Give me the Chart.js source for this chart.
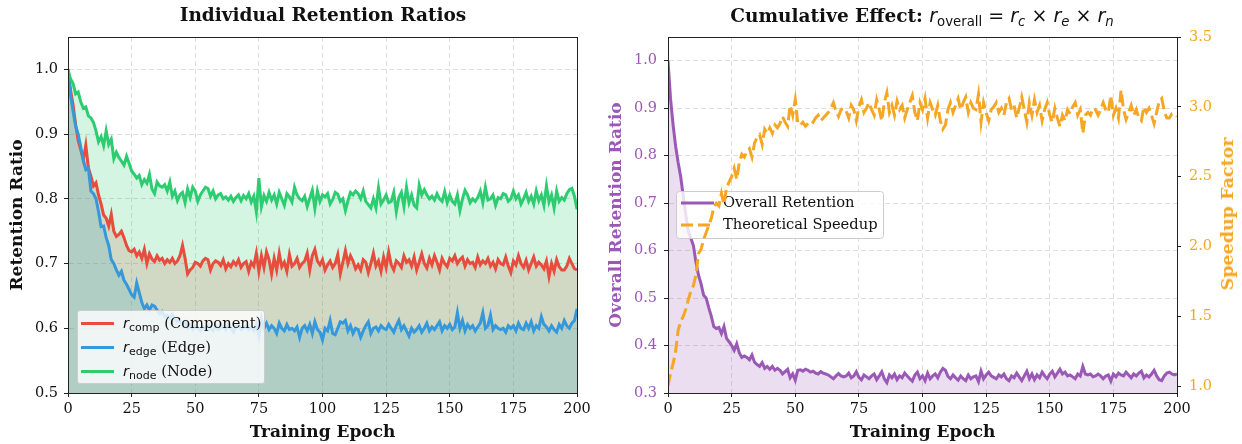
<!DOCTYPE html>
<html>
<head>
<meta charset="utf-8">
<script src="https://cdn.jsdelivr.net/npm/chart.js@4.4.1/dist/chart.umd.min.js"></script>
<style>
  body { margin: 0; background: #fff; }
  #wrap { position: relative; width: 1242px; height: 444px; overflow: hidden; font-family: "DejaVu Serif", serif; color: #111; }
  canvas { position: absolute; top: 0; }
  #c1 { left: 0; }
  #c2 { left: 600px; }
  .title { position: absolute; top: 4px; font-weight: bold; font-size: 18.5px; white-space: nowrap; transform: translateX(-50%); line-height: 22px; }
  .m { font-family: "DejaVu Sans", sans-serif; font-weight: normal; font-size: 19px; }
  .m sub { font-size: 0.7em; vertical-align: -0.3em; line-height: 0; }
  #ytitle2 { position: absolute; left: 1227px; top: 214px; transform: translate(-50%, -50%) rotate(-90deg); color: #f5a623; font-weight: bold; font-size: 17.5px; white-space: nowrap; }
  #legend1 { position: absolute; left: 77px; top: 310px; width: 188px; height: 74px; background: rgba(255,255,255,0.8); border: 1px solid #cccccc; border-radius: 3px; box-sizing: border-box; }
  .row { position: absolute; left: 0; height: 20px; }
  .swatch { position: absolute; left: 3px; top: 9px; width: 33px; height: 3px; }
  .lab { position: absolute; left: 45px; top: 0; font-size: 14.7px; white-space: nowrap; line-height: 20px; }
  .lab .r { font-family: "DejaVu Sans", sans-serif; font-style: italic; }
  .lab sub { font-family: "DejaVu Sans", sans-serif; font-size: 11px; vertical-align: -3px; line-height: 0; }
</style>
</head>
<body>
<div id="wrap">
  <canvas id="c1" width="600" height="444"></canvas>
  <canvas id="c2" width="642" height="444"></canvas>
  <div class="title" style="left:323px">Individual Retention Ratios</div>
  <div class="title" style="left:922px">Cumulative Effect: <span class="m"><i>r</i><sub>overall</sub> = <i>r</i><sub><i>c</i></sub> × <i>r</i><sub><i>e</i></sub> × <i>r</i><sub><i>n</i></sub></span></div>
  <div id="ytitle2">Speedup Factor</div>
  <div id="legend1">
    <div class="row" style="top:2px"><div class="swatch" style="background:#e74c3c"></div><div class="lab"><span class="r">r</span><sub>comp</sub> (Component)</div></div>
    <div class="row" style="top:26px"><div class="swatch" style="background:#3498db"></div><div class="lab"><span class="r">r</span><sub>edge</sub> (Edge)</div></div>
    <div class="row" style="top:50px"><div class="swatch" style="background:#2ecc71"></div><div class="lab"><span class="r">r</span><sub>node</sub> (Node)</div></div>
  </div>
</div>
<script>
// ===== data =====
const epochs = Array.from({ length: 201 }, (_, i) => i);

const rNode = [
  1.000, 0.985, 0.978, 0.962, 0.965, 0.950, 0.940, 0.942, 0.928, 0.925,
  0.918, 0.905, 0.888, 0.896, 0.882, 0.905, 0.884, 0.892, 0.862, 0.872,
  0.864, 0.858, 0.852, 0.866, 0.855, 0.843, 0.838, 0.832, 0.836, 0.822,
  0.830, 0.824, 0.838, 0.815, 0.808, 0.826, 0.820, 0.818, 0.822, 0.812,
  0.826, 0.804, 0.812, 0.797, 0.806, 0.810, 0.794, 0.815, 0.802, 0.818,
  0.812, 0.796, 0.806, 0.812, 0.818, 0.816, 0.804, 0.812, 0.800, 0.806,
  0.808, 0.800, 0.803, 0.798, 0.804, 0.796, 0.802, 0.806, 0.797, 0.805,
  0.800, 0.808, 0.795, 0.804, 0.780, 0.832, 0.788, 0.805, 0.796, 0.810,
  0.798, 0.806, 0.792, 0.810, 0.800, 0.790, 0.808, 0.803, 0.795, 0.818,
  0.806, 0.800, 0.797, 0.804, 0.788, 0.801, 0.813, 0.785, 0.812, 0.796,
  0.806, 0.803, 0.808, 0.792, 0.799, 0.810, 0.807, 0.796, 0.800, 0.782,
  0.797, 0.810, 0.806, 0.812, 0.808, 0.800, 0.812, 0.796, 0.791, 0.786,
  0.800, 0.786, 0.817, 0.792, 0.798, 0.806, 0.794, 0.796, 0.810, 0.780,
  0.802, 0.810, 0.788, 0.818, 0.794, 0.806, 0.790, 0.786, 0.821, 0.806,
  0.814, 0.806, 0.800, 0.804, 0.798, 0.808, 0.800, 0.796, 0.811, 0.794,
  0.806, 0.796, 0.792, 0.806, 0.782, 0.800, 0.813, 0.806, 0.794, 0.800,
  0.796, 0.802, 0.812, 0.794, 0.818, 0.798, 0.800, 0.806, 0.790, 0.802,
  0.800, 0.808, 0.806, 0.796, 0.800, 0.812, 0.800, 0.806, 0.792, 0.800,
  0.810, 0.796, 0.804, 0.792, 0.812, 0.797, 0.806, 0.790, 0.820, 0.795,
  0.806, 0.786, 0.812, 0.796, 0.802, 0.798, 0.808, 0.814, 0.816, 0.804,
  0.784
];

const rComp = [
  1.000, 0.968, 0.945, 0.915, 0.890, 0.876, 0.860, 0.883, 0.848, 0.835,
  0.820, 0.825, 0.806, 0.792, 0.775, 0.770, 0.758, 0.776, 0.750, 0.742,
  0.745, 0.750, 0.740, 0.728, 0.720, 0.718, 0.722, 0.712, 0.718, 0.708,
  0.722, 0.700, 0.715, 0.707, 0.703, 0.712, 0.705, 0.708, 0.700, 0.706,
  0.702, 0.708, 0.700, 0.704, 0.712, 0.728, 0.708, 0.684, 0.690, 0.694,
  0.702, 0.700, 0.696, 0.704, 0.708, 0.706, 0.690, 0.700, 0.704, 0.702,
  0.697, 0.706, 0.692, 0.700, 0.695, 0.703, 0.698, 0.706, 0.694, 0.700,
  0.703, 0.688, 0.702, 0.696, 0.716, 0.688, 0.712, 0.694, 0.718, 0.706,
  0.684, 0.708, 0.690, 0.716, 0.695, 0.702, 0.688, 0.714, 0.696, 0.700,
  0.708, 0.694, 0.700, 0.704, 0.716, 0.690, 0.712, 0.722, 0.704, 0.698,
  0.706, 0.690, 0.698, 0.704, 0.694, 0.700, 0.714, 0.684, 0.702, 0.720,
  0.700, 0.712, 0.704, 0.692, 0.698, 0.690, 0.706, 0.702, 0.686, 0.700,
  0.716, 0.696, 0.704, 0.688, 0.710, 0.694, 0.718, 0.698, 0.690, 0.704,
  0.700, 0.694, 0.712, 0.702, 0.706, 0.696, 0.710, 0.690, 0.702, 0.715,
  0.700, 0.693, 0.708, 0.698, 0.712, 0.702, 0.690, 0.708, 0.700, 0.695,
  0.708, 0.704, 0.712, 0.700, 0.706, 0.710, 0.696, 0.706, 0.700, 0.702,
  0.694, 0.710, 0.698, 0.704, 0.700, 0.708, 0.696, 0.702, 0.692, 0.706,
  0.700, 0.698, 0.710, 0.696, 0.686, 0.704, 0.698, 0.712, 0.700, 0.694,
  0.705, 0.690, 0.700, 0.710, 0.696, 0.702, 0.698, 0.692, 0.704, 0.680,
  0.700, 0.688, 0.706, 0.695, 0.690, 0.690, 0.696, 0.708, 0.700, 0.692,
  0.690
];

const rEdge = [
  1.000, 0.960, 0.935, 0.912, 0.900, 0.880, 0.860, 0.845, 0.848, 0.812,
  0.808, 0.800, 0.780, 0.757, 0.758, 0.740, 0.728, 0.706, 0.700, 0.690,
  0.682, 0.688, 0.674, 0.668, 0.660, 0.652, 0.648, 0.670, 0.655, 0.640,
  0.630, 0.636, 0.628, 0.636, 0.634, 0.628, 0.622, 0.626, 0.618, 0.620,
  0.616, 0.622, 0.614, 0.610, 0.612, 0.606, 0.610, 0.600, 0.604, 0.598,
  0.604, 0.600, 0.596, 0.602, 0.598, 0.606, 0.600, 0.596, 0.604, 0.598,
  0.602, 0.604, 0.598, 0.606, 0.600, 0.594, 0.602, 0.606, 0.598, 0.600,
  0.604, 0.598, 0.602, 0.596, 0.606, 0.588, 0.614, 0.600, 0.608, 0.598,
  0.604, 0.600, 0.592, 0.608, 0.600, 0.596, 0.606, 0.598, 0.600, 0.596,
  0.602, 0.586, 0.600, 0.604, 0.596, 0.606, 0.592, 0.610, 0.598, 0.594,
  0.582, 0.600, 0.596, 0.612, 0.592, 0.590, 0.600, 0.610, 0.608, 0.612,
  0.596, 0.604, 0.592, 0.600, 0.598, 0.586, 0.596, 0.604, 0.610, 0.592,
  0.600, 0.602, 0.596, 0.604, 0.600, 0.598, 0.606, 0.600, 0.594, 0.604,
  0.612, 0.598, 0.604, 0.596, 0.588, 0.600, 0.594, 0.598, 0.604, 0.594,
  0.600, 0.608, 0.596, 0.602, 0.598, 0.604, 0.610, 0.596, 0.604, 0.600,
  0.606, 0.598, 0.602, 0.624, 0.600, 0.612, 0.596, 0.606, 0.600, 0.604,
  0.596, 0.602, 0.608, 0.624, 0.600, 0.604, 0.620, 0.598, 0.604, 0.600,
  0.598, 0.600, 0.594, 0.604, 0.600, 0.604, 0.596, 0.608, 0.600, 0.598,
  0.608, 0.600, 0.610, 0.596, 0.604, 0.600, 0.618, 0.606, 0.602, 0.596,
  0.604, 0.598, 0.594, 0.606, 0.600, 0.612, 0.604, 0.600, 0.608, 0.612,
  0.630
];

const rOverall = [
  1.000, 0.920, 0.865, 0.820, 0.785, 0.755, 0.715, 0.675, 0.640, 0.626,
  0.610, 0.575, 0.548, 0.530, 0.506, 0.500, 0.480, 0.462, 0.440, 0.436,
  0.438, 0.425, 0.440, 0.415, 0.408, 0.400, 0.390, 0.404, 0.385, 0.375,
  0.378, 0.375, 0.370, 0.380, 0.365, 0.360, 0.356, 0.364, 0.352, 0.356,
  0.350, 0.356, 0.348, 0.352, 0.348, 0.340, 0.345, 0.350, 0.332, 0.340,
  0.327, 0.348, 0.349, 0.346, 0.350, 0.348, 0.344, 0.346, 0.342, 0.340,
  0.345, 0.342, 0.340, 0.338, 0.334, 0.330, 0.336, 0.341, 0.336, 0.334,
  0.336, 0.342, 0.332, 0.336, 0.345, 0.333, 0.328, 0.338, 0.334, 0.330,
  0.336, 0.340, 0.328, 0.336, 0.345, 0.330, 0.322, 0.338, 0.332, 0.340,
  0.328, 0.336, 0.332, 0.342, 0.336, 0.330, 0.325, 0.338, 0.344, 0.330,
  0.336, 0.326, 0.342, 0.330, 0.336, 0.340, 0.332, 0.344, 0.352, 0.348,
  0.335, 0.330, 0.338, 0.332, 0.327, 0.336, 0.330, 0.326, 0.338, 0.330,
  0.334, 0.336, 0.324, 0.346, 0.330, 0.338, 0.344, 0.336, 0.333, 0.330,
  0.338, 0.334, 0.340, 0.330, 0.326, 0.336, 0.332, 0.342, 0.334, 0.326,
  0.336, 0.346, 0.330, 0.340, 0.328, 0.338, 0.332, 0.344, 0.336, 0.330,
  0.340, 0.346, 0.334, 0.342, 0.350, 0.340, 0.344, 0.336, 0.338, 0.334,
  0.330, 0.340, 0.336, 0.356, 0.340, 0.338, 0.340, 0.334, 0.336, 0.340,
  0.336, 0.330, 0.336, 0.338, 0.325, 0.340, 0.334, 0.342, 0.338, 0.336,
  0.344, 0.338, 0.332, 0.340, 0.336, 0.342, 0.346, 0.332, 0.338, 0.334,
  0.340, 0.348, 0.336, 0.328, 0.326, 0.336, 0.342, 0.344, 0.340, 0.338,
  0.340
];

const speedup = [
  1.000, 1.090, 1.160, 1.250, 1.400, 1.460, 1.500, 1.550, 1.620, 1.680,
  1.720, 1.800, 1.950, 1.980, 2.050, 2.100, 2.150, 2.200, 2.280, 2.310,
  2.290, 2.380, 2.300, 2.420, 2.460, 2.500, 2.560, 2.480, 2.600, 2.660,
  2.640, 2.680, 2.700, 2.640, 2.740, 2.780, 2.800, 2.730, 2.840, 2.810,
  2.850, 2.810, 2.870, 2.850, 2.880, 2.930, 2.890, 2.860, 3.010, 2.940,
  3.050, 2.880, 2.870, 2.890, 2.860, 2.880, 2.900, 2.890, 2.920, 2.940,
  2.900, 2.920, 2.940, 2.960, 2.990, 3.030, 2.970, 2.930, 2.980, 2.990,
  2.970, 2.920, 3.010, 2.980, 2.900, 3.000, 3.050, 2.960, 2.990, 3.030,
  2.980, 2.940, 3.050, 2.980, 2.900, 3.030, 3.100, 2.960, 3.010, 2.940,
  3.040, 2.980, 3.010, 2.920, 2.980, 3.030, 3.080, 2.960, 2.900, 3.030,
  2.980, 3.060, 2.920, 3.030, 2.980, 2.940, 3.010, 2.900, 2.840, 2.870,
  2.980, 3.030, 2.960, 3.010, 3.060, 2.980, 3.030, 3.070, 2.960, 3.030,
  2.990, 2.980, 3.090, 2.890, 3.030, 2.960, 2.900, 2.980, 3.000, 3.030,
  2.960, 2.990, 2.940, 3.030, 3.060, 2.980, 3.010, 2.920, 2.990, 3.070,
  2.980, 2.890, 3.030, 2.940, 3.050, 2.960, 3.010, 2.900, 2.980, 3.030,
  2.940, 2.890, 2.990, 2.920, 2.860, 2.940, 2.900, 2.980, 2.950, 3.000,
  3.030, 2.940, 2.980, 2.810, 2.940, 2.960, 2.940, 2.990, 2.980, 2.940,
  2.980, 3.030, 2.980, 2.960, 3.080, 2.940, 2.990, 2.920, 3.120, 2.980,
  2.910, 2.960, 3.010, 2.940, 2.980, 2.920, 2.900, 3.000, 2.960, 2.990,
  2.940, 2.880, 2.960, 3.040, 3.060, 2.970, 2.920, 2.920, 2.950, 2.950,
  2.930
];

const xTicks = [0, 25, 50, 75, 100, 125, 150, 175, 200];

// ===== shared styling =====
const SERIF = '"DejaVu Serif", serif';
const GRID = '#dedede';
const SPINE = '#222';
const TICK_SIZE = 14.5;
const LABEL_SIZE = 17;

function alignPx(v) { return Math.round(v - 0.5) + 0.5; }

const framePlugin = {
  id: 'frame',
  afterDraw(chart) {
    const { ctx, chartArea: a } = chart;
    ctx.save();
    ctx.strokeStyle = SPINE;
    ctx.lineWidth = 1;
    const l = alignPx(a.left), r = alignPx(a.right), t = alignPx(a.top), b = alignPx(a.bottom);
    ctx.strokeRect(l, t, r - l, b - t);
    ctx.restore();
  }
};

function xScale() {
  return {
    type: 'linear', min: 0, max: 200,
    afterBuildTicks: s => { s.ticks = xTicks.map(v => ({ value: v })); },
    afterFit: s => { s.height = 51; },
    ticks: { font: { family: SERIF, size: TICK_SIZE }, color: '#111', padding: 4, maxRotation: 0 },
    grid: { color: GRID, lineWidth: 1, tickLength: 4, tickColor: SPINE, tickBorderDash: [] },
    border: { color: SPINE, width: 1, dash: [5, 3] },
    title: { display: true, text: 'Training Epoch', font: { family: SERIF, size: LABEL_SIZE, weight: 'bold' }, color: '#111', padding: { top: 0, bottom: 1 } }
  };
}

function lineDs(label, data, color, fill, extra) {
  return Object.assign({
    label, data, borderColor: color, backgroundColor: fill,
    borderWidth: 3, pointRadius: 0, tension: 0, fill: fill ? 'start' : false
  }, extra || {});
}

// ===== left panel =====
// fills are painted comp -> edge -> node, lines on top of all fills
new Chart(document.getElementById('c1'), {
  type: 'line',
  data: {
    labels: epochs,
    datasets: [
      lineDs('r_comp (Component)', rComp, '#e74c3c', 'rgba(231,76,60,0.2)', { order: 2 }),
      lineDs('r_edge (Edge)', rEdge, '#3498db', 'rgba(52,152,219,0.2)', { order: 1 }),
      lineDs('r_node (Node)', rNode, '#2ecc71', 'rgba(46,204,113,0.2)', { order: 0 })
    ]
  },
  options: {
    responsive: false, animation: false, events: [],
    layout: { padding: { top: 37, right: 23, left: 0, bottom: 0 } },
    plugins: { legend: { display: false }, tooltip: { enabled: false }, filler: { drawTime: 'beforeDatasetsDraw' } },
    scales: {
      x: xScale(),
      y: {
        min: 0.5, max: 1.05,
        afterFit: s => { s.width = 68; },
        ticks: { stepSize: 0.1, includeBounds: false, callback: v => v.toFixed(1), font: { family: SERIF, size: TICK_SIZE }, color: '#111', padding: 6 },
        grid: { color: GRID, lineWidth: 1, tickLength: 4, tickColor: SPINE, tickBorderDash: [] },
        border: { color: SPINE, width: 1, dash: [5, 3] },
        title: { display: true, text: 'Retention Ratio', font: { family: SERIF, size: LABEL_SIZE, weight: 'bold' }, color: '#111', padding: { top: 7, bottom: 0 } }
      }
    }
  },
  plugins: [framePlugin]
});

// ===== right panel =====
const rightLegend = {
  id: 'rightLegend',
  afterDatasetDraw(chart, args) {
    if (args.index !== 0) return;
    const ctx = chart.ctx;
    ctx.save();
    ctx.beginPath();
    ctx.roundRect(76.5, 191.5, 207, 47, 3);
    ctx.fillStyle = 'rgba(255,255,255,0.8)';
    ctx.fill();
    ctx.strokeStyle = '#cccccc';
    ctx.lineWidth = 1;
    ctx.stroke();
    ctx.lineWidth = 3;
    ctx.strokeStyle = '#9b59b6';
    ctx.beginPath(); ctx.moveTo(81, 203); ctx.lineTo(114, 203); ctx.stroke();
    ctx.strokeStyle = '#f5a623';
    ctx.setLineDash([12, 5]);
    ctx.beginPath(); ctx.moveTo(81, 225); ctx.lineTo(114, 225); ctx.stroke();
    ctx.setLineDash([]);
    ctx.fillStyle = '#111';
    ctx.font = '14.7px ' + SERIF;
    ctx.textBaseline = 'middle';
    ctx.fillText('Overall Retention', 123, 203);
    ctx.fillText('Theoretical Speedup', 123, 225);
    ctx.restore();
  }
};

new Chart(document.getElementById('c2'), {
  type: 'line',
  data: {
    labels: epochs,
    datasets: [
      lineDs('Overall Retention', rOverall, '#9b59b6', 'rgba(155,89,182,0.2)', { yAxisID: 'y', order: 1 }),
      lineDs('Theoretical Speedup', speedup, '#f5a623', null, { yAxisID: 'y2', order: 0, borderDash: [12, 5] })
    ]
  },
  options: {
    responsive: false, animation: false, events: [],
    layout: { padding: { top: 37, right: 0, left: 0, bottom: 0 } },
    plugins: { legend: { display: false }, tooltip: { enabled: false } },
    scales: {
      x: xScale(),
      y: {
        position: 'left', min: 0.3, max: 1.05,
        afterFit: s => { s.width = 68; },
        ticks: { stepSize: 0.1, includeBounds: false, callback: v => v.toFixed(1), font: { family: SERIF, size: TICK_SIZE }, color: '#9b59b6', padding: 7 },
        grid: { color: GRID, lineWidth: 1, tickLength: 4, tickColor: SPINE, tickBorderDash: [] },
        border: { color: SPINE, width: 1, dash: [5, 3] },
        title: { display: true, text: 'Overall Retention Ratio', font: { family: SERIF, size: LABEL_SIZE, weight: 'bold' }, color: '#9b59b6', padding: { top: 6, bottom: 0 } }
      },
      y2: {
        position: 'right', min: 0.95, max: 3.5,
        afterFit: s => { s.width = 65; },
        ticks: { stepSize: 0.5, includeBounds: false, callback: v => v.toFixed(1), font: { family: SERIF, size: TICK_SIZE }, color: '#f5a623', padding: 8 },
        grid: { drawOnChartArea: false, tickLength: 4, tickColor: SPINE, tickBorderDash: [] },
        border: { color: SPINE, width: 1 }
      }
    }
  },
  plugins: [rightLegend, framePlugin]
});
</script>
</body>
</html>
